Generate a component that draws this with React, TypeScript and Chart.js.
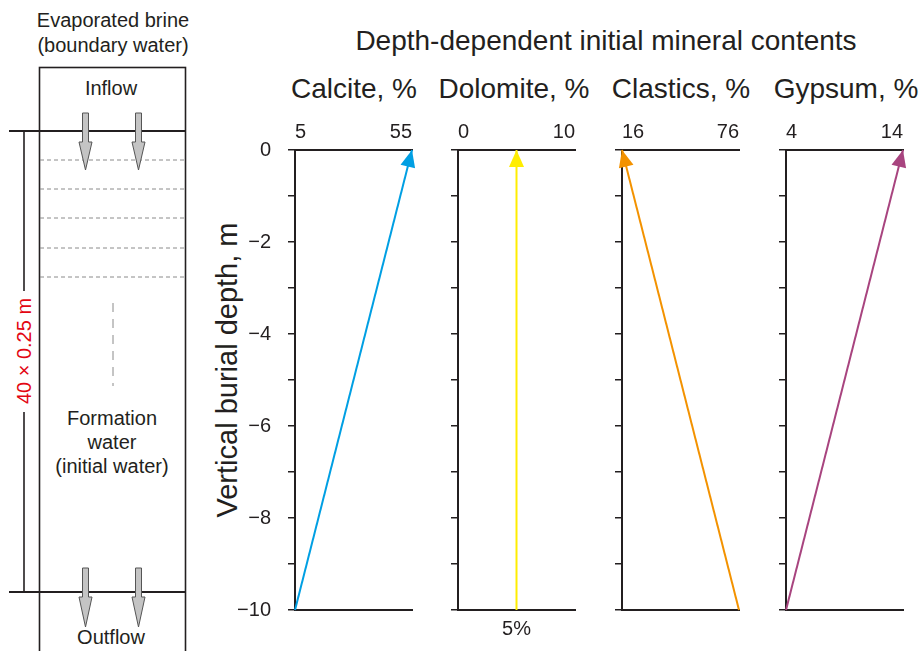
import React, { useEffect, useRef } from "react";
import { Chart, registerables } from "chart.js";
Chart.register(...registerables);

// ---- data ----
const depths = [-10, 0];
const mineralNames = ["Calcite, %", "Dolomite, %", "Clastics, %", "Gypsum, %"];
const calcite = [5, 55];
const dolomite = [5, 5];
const clastics = [76, 16];
const gypsum = [4, 14];
const xMins = [5, 0, 16, 4];
const xMaxs = [55, 10, 76, 14];
const bottomLabelText = ["", "5%", "", ""];
const bottomLabelValue = [5, 5, 16, 4];
const seriesColors = ["#009fe3", "#ffed00", "#f39200", "#a8447f"];
const seriesValues = [calcite, dolomite, clastics, gypsum];

const FONT = "'Liberation Sans', Arial, Helvetica, sans-serif";
const INK = "#231f20";

const axisXs = [295, 458, 622, 786];
const Y_W = 80;
const PLOT_W = 117;
const RIGHT_PAD = 14;

const fmt = (v: number) => (v < 0 ? "\u2212" + Math.abs(v) : String(v));

const arrowPlugin = {
  id: "arrowHeads",
  afterDatasetsDraw(chart: any) {
    const ctx = chart.ctx;
    chart.data.datasets.forEach((ds: any, i: number) => {
      const pts = chart.getDatasetMeta(i).data;
      if (pts.length < 2) return;
      const a = pts[pts.length - 2];
      const b = pts[pts.length - 1];
      const ang = Math.atan2(b.y - a.y, b.x - a.x);
      const L = 17;
      const W = 7.5;
      ctx.save();
      ctx.translate(b.x, b.y);
      ctx.rotate(ang);
      ctx.beginPath();
      ctx.moveTo(0, 0);
      ctx.lineTo(-L, -W);
      ctx.lineTo(-L, W);
      ctx.closePath();
      ctx.fillStyle = ds.borderColor;
      ctx.fill();
      ctx.restore();
    });
  },
};

function Panel({ idx }: { idx: number }) {
  const ref = useRef<HTMLCanvasElement | null>(null);
  useEffect(() => {
    if (!ref.current) return;
    const vals = seriesValues[idx];
    const chart = new Chart(ref.current, {
      type: "scatter",
      data: {
        datasets: [
          {
            data: depths.map((d, i) => ({ x: vals[i], y: d })),
            showLine: true,
            borderColor: seriesColors[idx],
            backgroundColor: seriesColors[idx],
            borderWidth: 2,
            pointRadius: 0,
            clip: false as any,
            xAxisID: "x",
            yAxisID: "y",
          },
        ],
      },
      options: {
        animation: false,
        responsive: false,
        events: [],
        layout: { padding: { left: 0, right: RIGHT_PAD, top: 0, bottom: 0 } },
        plugins: { legend: { display: false }, tooltip: { enabled: false } },
        scales: {
          x: {
            type: "linear",
            position: "top",
            min: xMins[idx],
            max: xMaxs[idx],
            afterBuildTicks: (s: any) => {
              s.ticks = [{ value: xMins[idx] }, { value: xMaxs[idx] }];
            },
            afterFit: (s: any) => {
              s.height = 40;
            },
            grid: { display: false, drawTicks: false },
            border: { display: true, color: INK, width: 2 },
            ticks: {
              align: "inner",
              maxRotation: 0,
              padding: 6,
              color: INK,
              font: { size: 20, family: FONT },
              callback: (v: any) => String(v),
            },
          },
          x2: {
            type: "linear",
            position: "bottom",
            min: xMins[idx],
            max: xMaxs[idx],
            afterBuildTicks: (s: any) => {
              s.ticks = [{ value: bottomLabelValue[idx] }];
            },
            afterFit: (s: any) => {
              s.height = 40;
            },
            grid: { display: false, drawTicks: false },
            border: { display: true, color: INK, width: 2 },
            ticks: {
              maxRotation: 0,
              padding: 7,
              color: INK,
              font: { size: 20, family: FONT },
              callback: () => bottomLabelText[idx],
            },
          },
          y: {
            type: "linear",
            position: "left",
            min: -10,
            max: 0,
            afterFit: (s: any) => {
              s.width = Y_W;
            },
            grid: {
              drawOnChartArea: false,
              drawTicks: true,
              tickLength: 7,
              color: INK,
              lineWidth: 1.5,
            },
            border: { display: true, color: INK, width: 2 },
            ticks: {
              stepSize: 1,
              padding: 17,
              color: INK,
              font: { size: 20, family: FONT },
              callback: (v: any) =>
                idx === 0 && Math.round(v) % 2 === 0 ? fmt(Math.round(v)) : "",
            },
          },
        },
      },
      plugins: [arrowPlugin],
    } as any);
    return () => chart.destroy();
  }, [idx]);
  return (
    <canvas
      ref={ref}
      width={Y_W + PLOT_W + RIGHT_PAD}
      height={540}
      style={{
        position: "absolute",
        left: axisXs[idx] - Y_W,
        top: 110,
        width: Y_W + PLOT_W + RIGHT_PAD,
        height: 540,
      }}
    />
  );
}

function ArrowShape({ cx, top, hs, tip }: { cx: number; top: number; hs: number; tip: number }) {
  const d = `M${cx - 3},${top} L${cx + 3},${top} L${cx + 3},${hs} L${cx + 6.5},${hs} L${cx},${tip} L${cx - 6.5},${hs} L${cx - 3},${hs} Z`;
  return <path d={d} fill="#c4c4c4" stroke="#555" strokeWidth={1} />;
}

export default function App() {
  useEffect(() => {
    Chart.defaults.font.family = FONT;
  }, []);
  const dashedYs = [160, 189, 218, 248, 277];
  const titleCenters = [354, 514, 681, 846];
  const S = 20;
  return (
    <div
      style={{
        position: "absolute",
        left: 0,
        top: 0,
        width: 919,
        height: 651,
        overflow: "hidden",
        background: "#fff",
      }}
    >
      <svg
        width={919}
        height={651}
        style={{ position: "absolute", left: 0, top: 0 }}
        fontFamily={FONT}
      >
        {/* schematic */}
        <text x={113} y={20} fontSize={S} textAnchor="middle" dominantBaseline="central" fill={INK}>
          Evaporated brine
        </text>
        <text x={113} y={45} fontSize={S} textAnchor="middle" dominantBaseline="central" fill={INK}>
          (boundary water)
        </text>
        <rect x={39.5} y={67.5} width={146} height={600} fill="none" stroke={INK} strokeWidth={1.6} />
        <line x1={9} y1={131} x2={186} y2={131} stroke={INK} strokeWidth={2} />
        <line x1={9} y1={592} x2={186} y2={592} stroke={INK} strokeWidth={2} />
        <line x1={24} y1={131} x2={24} y2={291} stroke={INK} strokeWidth={1.6} />
        <line x1={24} y1={412} x2={24} y2={592} stroke={INK} strokeWidth={1.6} />
        {dashedYs.map((y) => (
          <line key={y} x1={40} y1={y} x2={185} y2={y} stroke="#8a8a8a" strokeWidth={1} strokeDasharray="4 3" />
        ))}
        <line x1={113} y1={303} x2={113} y2={386} stroke="#8a8a8a" strokeWidth={1} strokeDasharray="9 7" />
        <text x={111} y={88} fontSize={S} textAnchor="middle" dominantBaseline="central" fill={INK}>
          Inflow
        </text>
        <ArrowShape cx={85.5} top={113} hs={142} tip={170} />
        <ArrowShape cx={138.5} top={113} hs={142} tip={170} />
        <ArrowShape cx={85.5} top={568} hs={597} tip={627} />
        <ArrowShape cx={138.5} top={568} hs={597} tip={627} />
        <text x={112} y={418} fontSize={S} textAnchor="middle" dominantBaseline="central" fill={INK}>
          Formation
        </text>
        <text x={112} y={442} fontSize={S} textAnchor="middle" dominantBaseline="central" fill={INK}>
          water
        </text>
        <text x={112} y={466} fontSize={S} textAnchor="middle" dominantBaseline="central" fill={INK}>
          (initial water)
        </text>
        <text x={111} y={637} fontSize={S} textAnchor="middle" dominantBaseline="central" fill={INK}>
          Outflow
        </text>
        <text
          x={24}
          y={351}
          fontSize={S}
          textAnchor="middle"
          dominantBaseline="central"
          fill="#e30613"
          transform="rotate(-90 24 351)"
        >
          40 × 0.25 m
        </text>

        {/* chart titles */}
        <text x={606} y={40} fontSize={28} textAnchor="middle" dominantBaseline="central" fill={INK}>
          Depth-dependent initial mineral contents
        </text>
        {mineralNames.map((n, i) => (
          <text
            key={n}
            x={titleCenters[i]}
            y={88}
            fontSize={28}
            textAnchor="middle"
            dominantBaseline="central"
            fill={INK}
          >
            {n}
          </text>
        ))}
        <text
          x={227}
          y={370}
          fontSize={29}
          textAnchor="middle"
          dominantBaseline="central"
          fill={INK}
          transform="rotate(-90 227 370)"
        >
          Vertical burial depth, m
        </text>
      </svg>
      {[0, 1, 2, 3].map((i) => (
        <Panel key={i} idx={i} />
      ))}
    </div>
  );
}
